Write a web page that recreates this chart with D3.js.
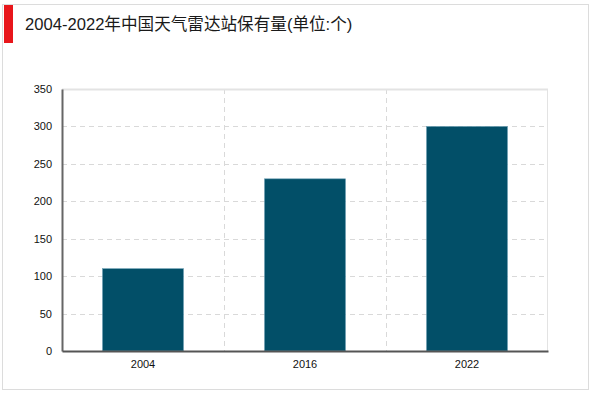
<!DOCTYPE html>
<html>
<head>
<meta charset="utf-8">
<script src="https://cdn.jsdelivr.net/npm/d3@7"></script>
<style>
  body { margin: 0; background: #fff; }
  svg text { font-family: "Liberation Sans", Arial, "Noto Sans CJK SC", sans-serif; }
</style>
</head>
<body>
<div class="bigvis"></div>
<script>
var title = "2004-2022年中国天气雷达站保有量(单位:个)"
var years = ["2004", "2016", "2022"]
var stations = [110, 230, 300]
var yTicks = [0, 50, 100, 150, 200, 250, 300, 350]

var W = 600, H = 393
var margin = {top: 89, right: 52, bottom: 42, left: 62}
var width = W - margin.left - margin.right
var height = H - margin.top - margin.bottom

var root = d3.select(".bigvis").append("svg")
    .attr("width", W)
    .attr("height", H)

// outer frame
root.append("rect")
    .attr("x", 2.5).attr("y", 4.5)
    .attr("width", 586).attr("height", 385)
    .attr("fill", "none")
    .attr("stroke", "#dcdcdc")

// red marker + title
root.append("rect")
    .attr("x", 4).attr("y", 5)
    .attr("width", 9).attr("height", 38)
    .attr("fill", "#e8161b")

root.append("text")
    .attr("x", 25).attr("y", 30)
    .attr("font-size", 16.6)
    .attr("fill", "#1a1a1a")
    .style("font-family", "'Liberation Sans', Arial, 'Noto Sans CJK SC', sans-serif")
    .text(title)

var svg = root.append("g")
    .attr("transform", "translate(" + margin.left + "," + margin.top + ")")

var x = d3.scaleBand().domain(years).range([0, width]).paddingInner(0.5).paddingOuter(0.25)
var xb = d3.scaleBand().domain(years).range([0, width])
var y = d3.scaleLinear().domain([0, 350]).range([height, 0])

// horizontal dashed grid
svg.append("g").selectAll("line")
    .data(yTicks.filter(function(d){ return d > 0 && d < 350 }))
  .enter().append("line")
    .attr("x1", 0).attr("x2", width)
    .attr("y1", function(d){ return Math.round(y(d)) + 0.5 })
    .attr("y2", function(d){ return Math.round(y(d)) + 0.5 })
    .attr("stroke", "#d9d9d9")
    .attr("stroke-dasharray", "5,4")

// vertical dashed separators between categories
svg.append("g").selectAll("line")
    .data(years.slice(1))
  .enter().append("line")
    .attr("x1", function(d){ return Math.round(xb(d)) + 0.5 })
    .attr("x2", function(d){ return Math.round(xb(d)) + 0.5 })
    .attr("y1", 0).attr("y2", height)
    .attr("stroke", "#d9d9d9")
    .attr("stroke-dasharray", "5,4")

// top and right frame of plot
svg.append("line")
    .attr("x1", 0).attr("x2", width).attr("y1", 0.5).attr("y2", 0.5)
    .attr("stroke", "#e3e3e3").attr("stroke-width", 2)
svg.append("line")
    .attr("x1", width - 0.5).attr("x2", width - 0.5).attr("y1", 0).attr("y2", height)
    .attr("stroke", "#e3e3e3")

// bars
svg.append("g").selectAll("rect")
    .data(stations)
  .enter().append("rect")
    .attr("x", function(d, i){ return x(years[i]) })
    .attr("y", function(d){ return y(d) })
    .attr("width", x.bandwidth())
    .attr("height", function(d){ return height - y(d) })
    .attr("fill", "#024f68")
    .attr("stroke", "#6d9fb3")
    .attr("stroke-width", 0.6)

// axes
var yAxis = svg.append("g")
    .call(d3.axisLeft(y).tickValues(yTicks).tickSize(0).tickPadding(10))
yAxis.select(".domain").attr("stroke", "#666").attr("stroke-width", 2)
yAxis.selectAll("text").attr("font-size", 11).attr("fill", "#111")
    .style("font-family", "'Liberation Sans', Arial, sans-serif")

var xAxis = svg.append("g")
    .attr("transform", "translate(0," + height + ")")
    .call(d3.axisBottom(xb).tickSize(0).tickPadding(9))
xAxis.select(".domain").attr("stroke", "#555").attr("stroke-width", 2)
xAxis.selectAll("text").attr("font-size", 11).attr("fill", "#111")
    .style("font-family", "'Liberation Sans', Arial, sans-serif")
</script>
</body>
</html>
